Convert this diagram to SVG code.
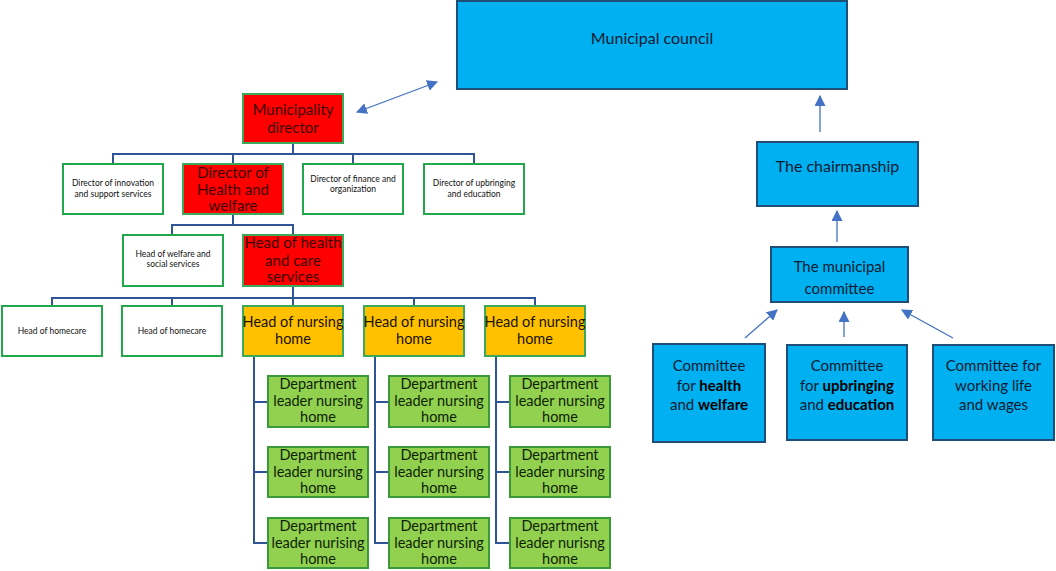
<svg xmlns="http://www.w3.org/2000/svg" width="1056" height="571" viewBox="0 0 1056 571">
<defs>
<marker id="ah" viewBox="0 0 10 10" refX="9" refY="5" markerWidth="11" markerHeight="11" markerUnits="userSpaceOnUse" orient="auto-start-reverse">
<path d="M0,0 L10,5 L0,10 z" fill="#4472C4"/>
</marker>
<style>
.t{font-family:Lato,"Open Sans","Liberation Sans",sans-serif;text-anchor:middle}
.w{fill:#fff;stroke:#22A84A;stroke-width:2}
.r{fill:#FF0000;stroke:#3BA85A;stroke-width:2}
.o{fill:#FFC000;stroke:#3BA85A;stroke-width:2}
.g{fill:#92D050;stroke:#3A9A3A;stroke-width:2}
.b{fill:#00B0F0;stroke:#1F4E79;stroke-width:2}
.sm{font-size:8.5px;fill:#111}
.md{font-size:15px;fill:#3a0000}
.nh{font-size:14.5px;fill:#1a1200}
.dp{font-size:14.5px;fill:#0d1f05}
.bl{font-size:15px;fill:#0a1a30}
.bd{fill:#000;font-weight:bold}
.bus{fill:none;stroke:#2F5597;stroke-width:2}
.ar{fill:none;stroke:#4472C4;stroke-width:1.3}
</style>
</defs>
<rect width="1056" height="571" fill="#fff"/>

<g id="connectors">
<path class="bus" d="M293,143V154M113,164V154H474V164M233,154V164M353,154V164"/>
<path class="bus" d="M233,214V225M172,235V225H293V235"/>
<path class="bus" d="M293,286V298M52,306V298H535V306M172,298V306M293,298V306M414,298V306"/>
<path class="bus" d="M254,356V543H268M254,402H268M254,472H268"/>
<path class="bus" d="M375,356V543H389M375,402H389M375,472H389"/>
<path class="bus" d="M496,356V543H510M496,402H510M496,472H510"/>
<line class="ar" x1="357" y1="112" x2="437" y2="82" marker-start="url(#ah)" marker-end="url(#ah)"/>
<line class="ar" x1="820" y1="132" x2="820" y2="96" marker-end="url(#ah)"/>
<line class="ar" x1="837" y1="242" x2="837" y2="211" marker-end="url(#ah)"/>
<line class="ar" x1="745" y1="338" x2="777" y2="310" marker-end="url(#ah)"/>
<line class="ar" x1="844" y1="337" x2="844" y2="312" marker-end="url(#ah)"/>
<line class="ar" x1="953" y1="338" x2="902" y2="310" marker-end="url(#ah)"/>
</g>

<g id="council"><rect class="b" x="457" y="1" width="390" height="88"/><text class="t bl" x="652" y="44" style="font-size:16px">Municipal council</text></g>
<g id="chairmanship"><rect class="b" x="757" y="142" width="161" height="64"/><text class="t bl" x="837.5" y="172" style="font-size:16px">The chairmanship</text></g>
<g id="mcommittee"><rect class="b" x="771" y="247" width="137" height="55"/><text class="t bl" x="839.5" y="272">The municipal</text><text class="t bl" x="839.5" y="294">committee</text></g>
<g id="c-health"><rect class="b" x="653" y="344" width="112" height="98"/><text class="t bl" x="709" y="371">Committee</text><text class="t bl" x="709" y="391">for <tspan class="bd">health</tspan></text><text class="t bl" x="709" y="410">and <tspan class="bd">welfare</tspan></text></g>
<g id="c-upbringing"><rect class="b" x="787" y="345" width="120" height="95"/><text class="t bl" x="847" y="371">Committee</text><text class="t bl" x="847" y="391">for <tspan class="bd">upbringing</tspan></text><text class="t bl" x="847" y="410">and <tspan class="bd">education</tspan></text></g>
<g id="c-working"><rect class="b" x="933" y="345" width="121" height="95"/><text class="t bl" x="993.5" y="371">Committee for</text><text class="t bl" x="993.5" y="391">working life</text><text class="t bl" x="993.5" y="410">and wages</text></g>

<g id="mdirector"><rect class="r" x="243" y="94" width="100" height="49"/><text class="t md" x="293" y="115">Municipality</text><text class="t md" x="293" y="133">director</text></g>
<g id="d-innovation"><rect class="w" x="63" y="164" width="100" height="50"/><text class="t sm" x="113" y="186">Director of innovation</text><text class="t sm" x="113" y="197">and  support services</text></g>
<g id="d-health"><rect class="r" x="183" y="164" width="100" height="50"/><text class="t md" x="233" y="178">Director of</text><text class="t md" x="233" y="195">Health and</text><text class="t md" x="233" y="211">welfare</text></g>
<g id="d-finance"><rect class="w" x="303" y="164" width="100" height="50"/><text class="t sm" x="353" y="182">Director of finance and</text><text class="t sm" x="353" y="192">organization</text></g>
<g id="d-upbringing"><rect class="w" x="424" y="164" width="100" height="50"/><text class="t sm" x="474" y="186">Director of upbringing</text><text class="t sm" x="474" y="197">and education</text></g>

<g id="h-welfare"><rect class="w" x="123" y="235" width="100" height="51"/><text class="t sm" x="173" y="257">Head of welfare and</text><text class="t sm" x="173" y="267">social services</text></g>
<g id="h-healthcare"><rect class="r" x="243" y="235" width="100" height="51"/><text class="t md" x="293" y="248">Head of health</text><text class="t md" x="293" y="266">and care</text><text class="t md" x="293" y="282">services</text></g>

<g id="homecare1"><rect class="w" x="2" y="306" width="100" height="50"/><text class="t sm" x="52" y="334">Head of homecare</text></g>
<g id="homecare2"><rect class="w" x="122" y="306" width="100" height="50"/><text class="t sm" x="172" y="334">Head of homecare</text></g>
<g id="nursing1"><rect class="o" x="243" y="306" width="100" height="50"/><text class="t nh" x="293" y="327">Head of nursing</text><text class="t nh" x="293" y="344">home</text></g>
<g id="nursing2"><rect class="o" x="364" y="306" width="100" height="50"/><text class="t nh" x="414" y="327">Head of nursing</text><text class="t nh" x="414" y="344">home</text></g>
<g id="nursing3"><rect class="o" x="485" y="306" width="100" height="50"/><text class="t nh" x="535" y="327">Head of nursing</text><text class="t nh" x="535" y="344">home</text></g>

<g id="dept-1-1"><rect class="g" x="268" y="376" width="100" height="51"/><text class="t dp" x="318" y="389">Department</text><text class="t dp" x="318" y="406">leader nursing</text><text class="t dp" x="318" y="422">home</text></g>
<g id="dept-1-2"><rect class="g" x="268" y="447" width="100" height="50"/><text class="t dp" x="318" y="460">Department</text><text class="t dp" x="318" y="477">leader nursing</text><text class="t dp" x="318" y="493">home</text></g>
<g id="dept-1-3"><rect class="g" x="268" y="518" width="100" height="50"/><text class="t dp" x="318" y="531">Department</text><text class="t dp" x="318" y="548">leader nurising</text><text class="t dp" x="318" y="564">home</text></g>
<g id="dept-2-1"><rect class="g" x="389" y="376" width="100" height="51"/><text class="t dp" x="439" y="389">Department</text><text class="t dp" x="439" y="406">leader nursing</text><text class="t dp" x="439" y="422">home</text></g>
<g id="dept-2-2"><rect class="g" x="389" y="447" width="100" height="50"/><text class="t dp" x="439" y="460">Department</text><text class="t dp" x="439" y="477">leader nursing</text><text class="t dp" x="439" y="493">home</text></g>
<g id="dept-2-3"><rect class="g" x="389" y="518" width="100" height="50"/><text class="t dp" x="439" y="531">Department</text><text class="t dp" x="439" y="548">leader nursing</text><text class="t dp" x="439" y="564">home</text></g>
<g id="dept-3-1"><rect class="g" x="510" y="376" width="100" height="51"/><text class="t dp" x="560" y="389">Department</text><text class="t dp" x="560" y="406">leader nursing</text><text class="t dp" x="560" y="422">home</text></g>
<g id="dept-3-2"><rect class="g" x="510" y="447" width="100" height="50"/><text class="t dp" x="560" y="460">Department</text><text class="t dp" x="560" y="477">leader nursing</text><text class="t dp" x="560" y="493">home</text></g>
<g id="dept-3-3"><rect class="g" x="510" y="518" width="100" height="50"/><text class="t dp" x="560" y="531">Department</text><text class="t dp" x="560" y="548">leader nurisng</text><text class="t dp" x="560" y="564">home</text></g>
</svg>
